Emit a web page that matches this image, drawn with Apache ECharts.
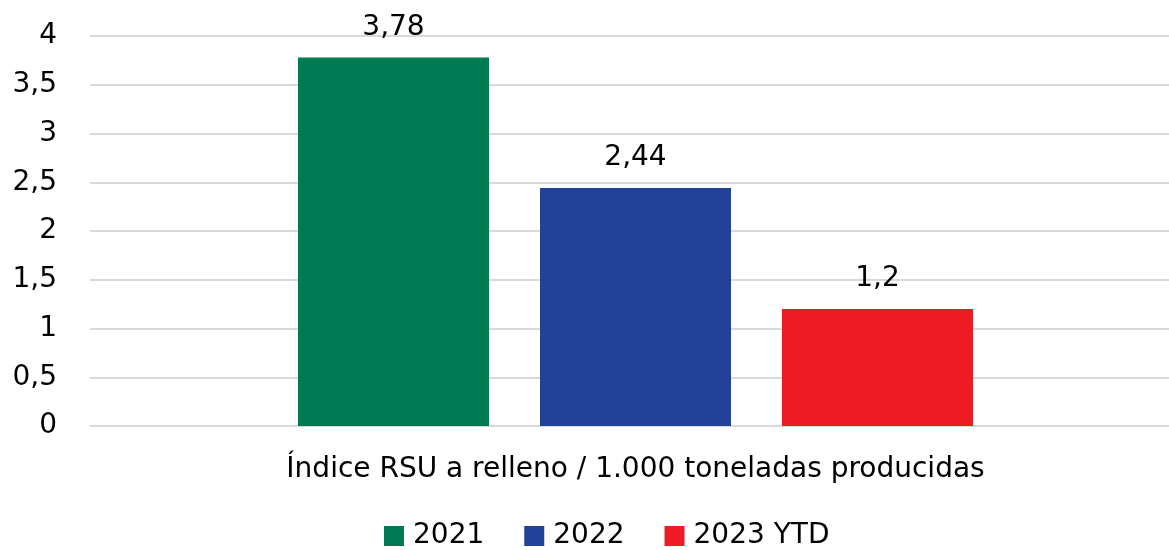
<!DOCTYPE html>
<html>
<head>
<meta charset="utf-8">
<script src="https://cdn.jsdelivr.net/npm/echarts@6/dist/echarts.min.js"></script>
<style>
  html, body { margin: 0; padding: 0; background: #fff; }
  #main { width: 1169px; height: 550px; }
</style>
</head>
<body>
<div id="main"></div>
<script>
// 数据
var categories = ['Índice RSU a relleno / 1.000 toneladas producidas'];
var seriesNames = ['2021', '2022', '2023 YTD'];
var values2021 = [3.78];
var values2022 = [2.44];
var values2023 = [1.2];
var colors = ['#007A53', '#24419A', '#ED1C24'];

var fontFamily = '"DejaVu Sans", sans-serif';
var fontSize = 28;

function comma (v) {
  return String(v).replace('.', ',');
}

var myChart = echarts.init(document.getElementById('main'));

function makeSeries (name, data, color) {
  return {
    name: name,
    type: 'bar',
    barWidth: 191,
    barGap: '26.7%',
    data: data,
    itemStyle: { color: color },
    label: {
      show: true,
      position: 'top',
      distance: 16,
      color: '#000',
      fontSize: fontSize,
      fontFamily: fontFamily,
      formatter: function (p) { return comma(p.value); }
    }
  };
}

var option = {
  animation: false,
  textStyle: { fontFamily: fontFamily },
  grid: {
    left: 90,
    top: 36,
    width: 1091,
    bottom: 124,
    outerBoundsMode: 'none',
    containLabel: false
  },
  legend: {
    bottom: 0,
    left: 384,
    padding: 0,
    itemWidth: 20,
    itemHeight: 20,
    itemGap: 40,
    icon: 'rect',
    textStyle: { color: '#000', fontSize: fontSize, fontFamily: fontFamily, padding: [0, 0, 0, 4] },
    data: seriesNames
  },
  xAxis: {
    type: 'category',
    data: categories,
    axisTick: { show: false },
    axisLine: { show: false },
    axisLabel: { color: '#000', fontSize: fontSize, margin: 30, fontFamily: fontFamily }
  },
  yAxis: {
    type: 'value',
    min: 0,
    max: 4,
    interval: 0.5,
    axisLine: { show: false },
    axisTick: { show: false },
    axisLabel: {
      color: '#000',
      fontSize: fontSize,
      margin: 33,
      fontFamily: fontFamily,
      formatter: function (v) { return comma(v); }
    },
    splitLine: { lineStyle: { color: '#D9D9D9', width: 2 } }
  },
  series: [
    makeSeries(seriesNames[0], values2021, colors[0]),
    makeSeries(seriesNames[1], values2022, colors[1]),
    makeSeries(seriesNames[2], values2023, colors[2])
  ]
};

myChart.setOption(option);
</script>
</body>
</html>
